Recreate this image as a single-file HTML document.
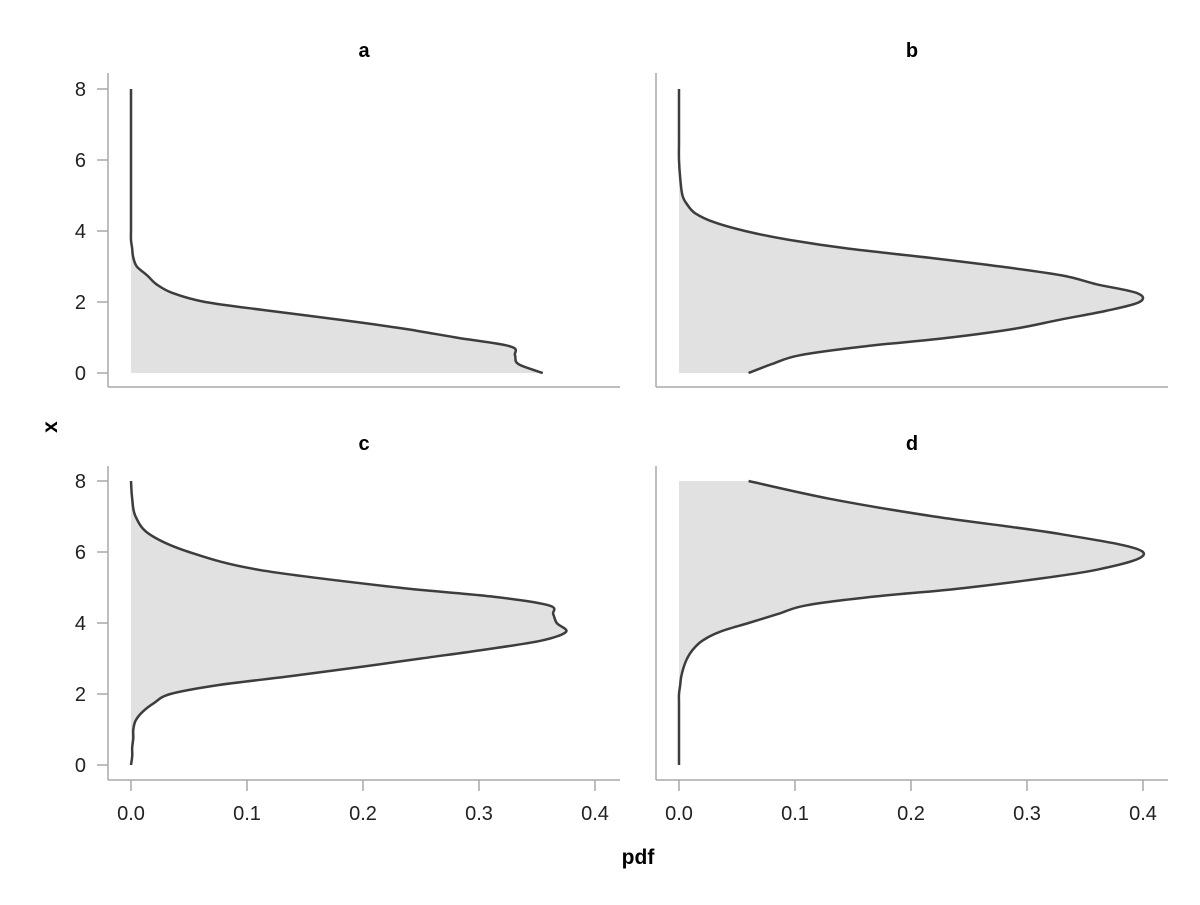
<!DOCTYPE html>
<html><head><meta charset="utf-8"><style>
body{margin:0;background:#fff}
svg text{font-family:"Liberation Sans",sans-serif}
</style></head><body>
<svg id="chart" width="1200" height="900" viewBox="0 0 1200 900" xmlns="http://www.w3.org/2000/svg"></svg>
<script>
const panelNames = ['a','b','c','d'];
const xGrid = [0,0.25,0.5,0.75,1,1.25,1.5,1.75,2,2.25,2.5,2.75,3,3.25,3.5,3.75,4,4.25,4.5,4.75,5,5.5,6,6.5,7,7.5,8];
const pdfA = [0.355,0.334,0.331,0.327,0.280,0.235,0.180,0.120,0.064,0.036,0.022,0.014,0.005,0.002,0.001,0,0,0,0,0,0,0,0,0,0,0,0];
const pdfB = [0.060,0.080,0.104,0.160,0.234,0.290,0.328,0.368,0.397,0.395,0.360,0.330,0.277,0.215,0.147,0.095,0.057,0.030,0.014,0.007,0.003,0.001,0,0,0,0,0];
const pdfC = [0,0.001,0.001,0.002,0.002,0.004,0.010,0.020,0.034,0.075,0.137,0.195,0.250,0.305,0.353,0.375,0.367,0.364,0.360,0.310,0.230,0.110,0.050,0.016,0.004,0.001,0];
const pdfD = [0,0,0,0,0,0,0,0,0,0.001,0.002,0.004,0.007,0.012,0.020,0.035,0.060,0.085,0.110,0.170,0.250,0.360,0.400,0.330,0.220,0.130,0.060];
const series = [pdfA,pdfB,pdfC,pdfD];
const xTicks = ['0.0','0.1','0.2','0.3','0.4'];
const yTicks = ['0','2','4','6','8'];

const svg = document.getElementById('chart');
const NS = 'http://www.w3.org/2000/svg';
function mk(tag, attrs, parent){const e=document.createElementNS(NS,tag);for(const k in attrs)e.setAttribute(k,attrs[k]);(parent||svg).appendChild(e);return e;}

const panels = [
 {x0:131, spineX:108, spineR:620, y0:373, top:73, bottom:387},
 {x0:679, spineX:656, spineR:1168, y0:373, top:73, bottom:387},
 {x0:131, spineX:108, spineR:620, y0:765, top:466, bottom:780},
 {x0:679, spineX:656, spineR:1168, y0:765, top:466, bottom:780}
];
const pxPer = 1160;
const pyPer = 35.5;

function smoothPath(pts){
  let d = 'M'+pts[0][0]+','+pts[0][1];
  for(let i=0;i<pts.length-1;i++){
    const p0=pts[Math.max(0,i-1)],p1=pts[i],p2=pts[i+1],p3=pts[Math.min(pts.length-1,i+2)];
    const c1=[p1[0]+(p2[0]-p0[0])/6,p1[1]+(p2[1]-p0[1])/6];
    const c2=[p2[0]-(p3[0]-p1[0])/6,p2[1]-(p3[1]-p1[1])/6];
    d+=' C'+c1[0].toFixed(1)+','+c1[1].toFixed(1)+' '+c2[0].toFixed(1)+','+c2[1].toFixed(1)+' '+p2[0].toFixed(1)+','+p2[1].toFixed(1);
  }
  return d;
}

panels.forEach((p,i)=>{
  const g = mk('g',{});
  
  
  const sx = v=>p.x0+v*pxPer, sy = v=>p.y0-v*pyPer;
  const pts = xGrid.map((x,k)=>[sx(series[i][k]), sy(x)]);
  const line = smoothPath(pts);
  const area = mk('path',{d:line+' L'+sx(0)+','+sy(xGrid[xGrid.length-1])+' L'+sx(0)+','+sy(0)+' Z',fill:'#e1e1e1',stroke:'none'},g);
  
  
  const ln = mk('path',{d:line,fill:'none',stroke:'#3d3d3d','stroke-width':2.5},g);
  
  
  const ys = mk('line',{x1:p.spineX,x2:p.spineX,y1:p.top,y2:p.bottom,stroke:'#a8a8a8','stroke-width':1.5},g);
  
  
  const xs = mk('line',{x1:p.spineX,x2:p.spineR,y1:p.bottom,y2:p.bottom,stroke:'#a8a8a8','stroke-width':1.5},g);
  
  
  if(i%2===0){
    yTicks.forEach(t=>{
      const y=sy(+t);
      mk('line',{x1:p.spineX-11,x2:p.spineX,y1:y,y2:y,stroke:'#a8a8a8','stroke-width':1.5},g);
      const tx=mk('text',{x:p.spineX-22,y:y+7,'text-anchor':'end','font-size':20,fill:'#222'},g);
      tx.textContent=t;
      
      
    });
  }
  if(i>=2){
    xTicks.forEach(t=>{
      const x=sx(+t);
      mk('line',{x1:x,x2:x,y1:p.bottom,y2:p.bottom+11,stroke:'#a8a8a8','stroke-width':1.5},g);
      const tx=mk('text',{x:x,y:p.bottom+40,'text-anchor':'middle','font-size':20,fill:'#222'},g);
      tx.textContent=t;
      
      
    });
  }
  const title = mk('text',{x:(p.spineX+p.spineR)/2,y:p.top-16,'text-anchor':'middle','font-size':20,'font-weight':'bold',fill:'#000'},g);
  title.textContent = panelNames[i];
  
  
});
const xl = mk('text',{x:638,y:864,'text-anchor':'middle','font-size':21,'font-weight':'bold',fill:'#000'});
xl.textContent='pdf';


const yl = mk('text',{x:0,y:0,'text-anchor':'middle','font-size':21,'font-weight':'bold',fill:'#000',transform:'translate(57,427) rotate(-90)'});
yl.textContent='x';


</script>
</body></html>
